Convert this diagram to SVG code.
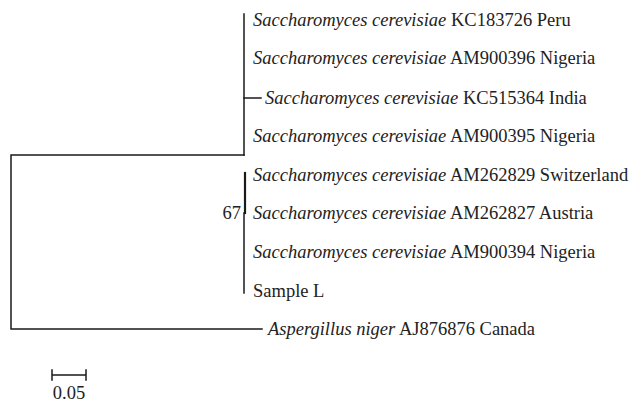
<svg xmlns="http://www.w3.org/2000/svg" width="632" height="409" viewBox="0 0 632 409">
<style>
.br{stroke:#1a1a1a;stroke-width:1.5;fill:none;stroke-linecap:square}
.t{font-family:"Liberation Serif","Times New Roman",serif;font-size:18.5px;fill:#222}
.i{font-style:italic}
</style>
<rect width="632" height="409" fill="#fff"/>
<g id="connectors">
<path class="br" d="M244,155 H11 V329 H262"/>
<path class="br" d="M244,14 V155"/>
<path class="br" d="M244,98 H261"/>
<path class="br" d="M245,173 V213" style="stroke-width:2.2"/>
<path class="br" d="M244,213 V293"/>
<path class="br" d="M52,375 H86 M52,370 V380 M86,370 V380"/>
</g>
<g id="leaf1"><text class="t" x="253" y="26"><tspan class="i">Saccharomyces cerevisiae</tspan> KC183726 Peru</text></g>
<g id="leaf2"><text class="t" x="253" y="64"><tspan class="i">Saccharomyces cerevisiae</tspan> AM900396 Nigeria</text></g>
<g id="leaf3"><text class="t" x="265" y="104"><tspan class="i">Saccharomyces cerevisiae</tspan> KC515364 India</text></g>
<g id="leaf4"><text class="t" x="253" y="142"><tspan class="i">Saccharomyces cerevisiae</tspan> AM900395 Nigeria</text></g>
<g id="leaf5"><text class="t" x="253" y="181"><tspan class="i">Saccharomyces cerevisiae</tspan> AM262829 Switzerland</text></g>
<g id="leaf6"><text class="t" x="253" y="219"><tspan class="i">Saccharomyces cerevisiae</tspan> AM262827 Austria</text></g>
<g id="leaf7"><text class="t" x="253" y="258"><tspan class="i">Saccharomyces cerevisiae</tspan> AM900394 Nigeria</text></g>
<g id="leaf8"><text class="t" x="253" y="297">Sample L</text></g>
<g id="leaf9"><text class="t" x="268" y="335"><tspan class="i">Aspergillus niger</tspan> AJ876876 Canada</text></g>
<g id="bootstrap"><text class="t" x="241" y="219" text-anchor="end">67</text></g>
<g id="scale"><text class="t" x="69" y="399" text-anchor="middle">0.05</text></g>
</svg>
